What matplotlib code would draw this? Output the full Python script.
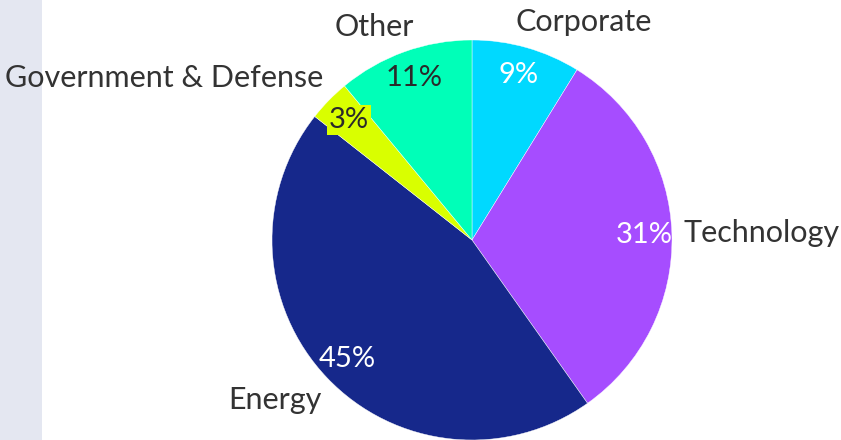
import numpy as np
import matplotlib
matplotlib.use("Agg")
import matplotlib.pyplot as plt
from matplotlib.patches import Rectangle

categories = ["Corporate", "Technology", "Energy", "Government & Defense", "Other"]
values = [8.8, 31.4, 45.4, 3.4, 11.0]
colors = ["#00d9ff", "#a64dff", "#16288b", "#d9ff00", "#00ffb8"]
pct_colors = ["white", "white", "white", "#2a2a2a", "#2a2a2a"]
# small horizontal nudges for outside labels (pixels)
label_nudge_px = [-14, 0, 3, 3, 14]

plt.rcParams["font.family"] = ["Lato", "DejaVu Sans"]

W, H = 841, 440
fig = plt.figure(figsize=(W / 100, H / 100), dpi=100)
fig.patches.append(Rectangle((0, 0), 42 / W, 1, transform=fig.transFigure,
                             facecolor="#e4e7f1", edgecolor="none", zorder=-10))

ax = fig.add_axes([272 / W, 0 / H, 400 / W, 400 / H])
wedges, texts, autotexts = ax.pie(
    values, colors=colors, startangle=90, counterclock=False,
    autopct="%.0f%%", pctdistance=0.86, radius=1.0,
    wedgeprops=dict(edgecolor="white", linewidth=0.3),
    textprops=dict(fontsize=21))
ax.set_xlim(-1, 1)
ax.set_ylim(-1, 1)
ax.set_aspect("equal")
ax.axis("off")

for t, c in zip(autotexts, pct_colors):
    t.set_color(c)
    t.set_fontsize(21)
autotexts[3].set_bbox(dict(facecolor=colors[3], edgecolor="none", pad=1.5))

# outside labels
for w, name, nd in zip(wedges, categories, label_nudge_px):
    ang = np.deg2rad((w.theta1 + w.theta2) / 2)
    R = 1.06
    x, y = R * np.cos(ang), R * np.sin(ang)
    ha = "left" if x > 0 else "right"
    if y > 0.7:
        va = "bottom"
    elif y < -0.5:
        va = "top"
    else:
        va = "center"
    ax.annotate(name, (x, y), xytext=(nd * 0.72, 0), textcoords="offset points",
                ha=ha, va=va, fontsize=22, color="#333333", annotation_clip=False)

fig.savefig("out.png", dpi=100)
